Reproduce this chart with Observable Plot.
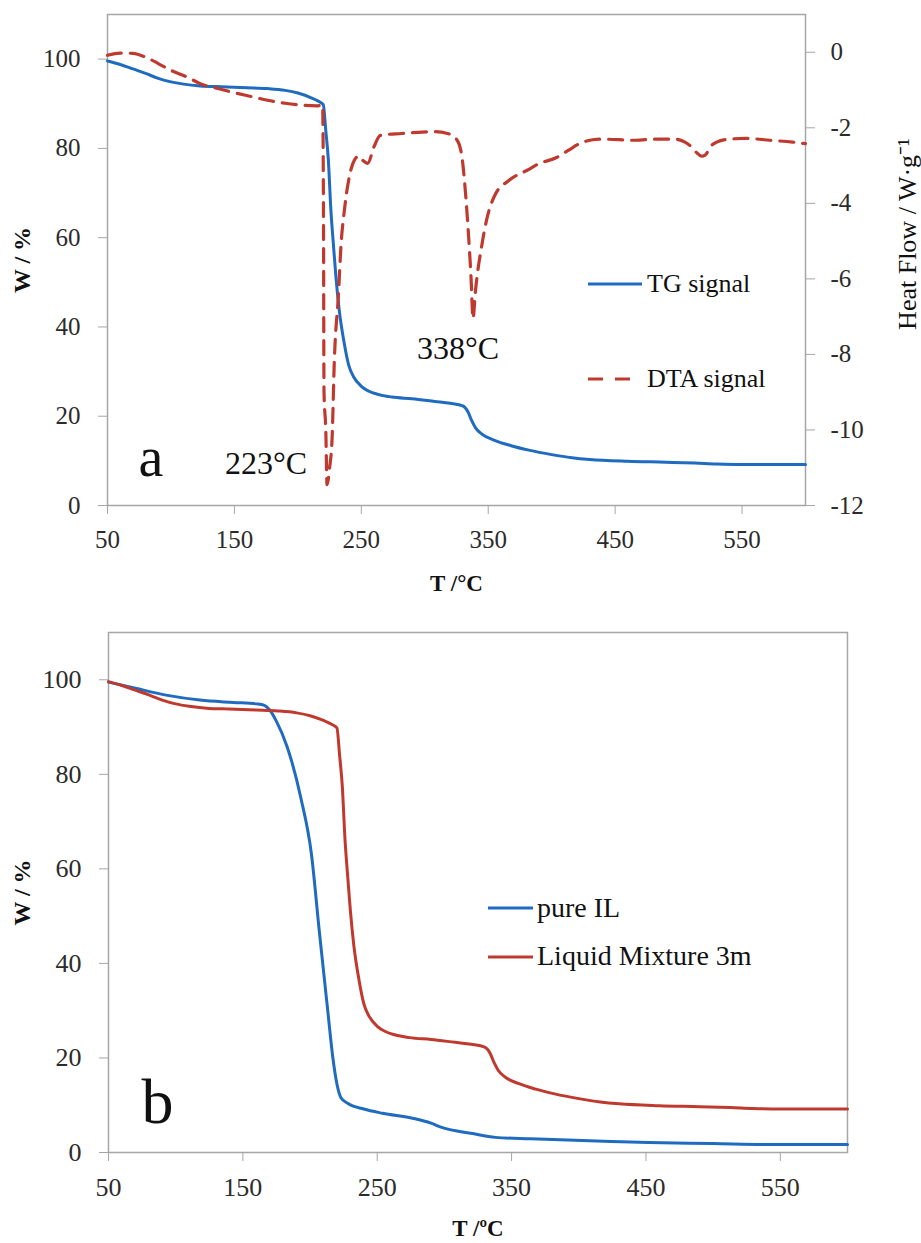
<!DOCTYPE html>
<html>
<head>
<meta charset="utf-8">
<script src="https://cdn.jsdelivr.net/npm/d3@7"></script>
<script src="https://cdn.jsdelivr.net/npm/@observablehq/plot@0.6"></script>
<style>
  body { margin: 0; background: #fff; }
  #fig { position: relative; width: 921px; height: 1243px; background: #fff; }
  #fig > svg { display: block; }
  #fig svg.overlay { position: absolute; left: 0; top: 0; pointer-events: none; }
</style>
</head>
<body>
<div id="fig"></div>
<script>
// Liquid mixture 3m: TG mass loss, temperature in °C, mass in %
const mixTemp = [50, 60, 70, 80, 90, 100, 110, 123, 140, 160, 176, 190, 200, 210, 216, 220, 222, 224, 226, 228, 230, 232.5, 236.5, 240, 244, 250, 256, 263, 274, 290, 308, 320, 330, 334, 337, 340, 345, 355, 368, 382, 400, 416, 430, 460, 490, 513, 530, 550, 575, 600];
const mixMass = [99.6, 98.8, 97.8, 96.8, 95.7, 94.9, 94.4, 94.0, 93.8, 93.6, 93.4, 93.0, 92.4, 91.4, 90.6, 89.8, 84.0, 77.5, 66.3, 58.5, 51.2, 44.0, 36.4, 31.5, 28.8, 26.7, 25.6, 24.9, 24.3, 23.9, 23.3, 22.9, 22.3, 21.0, 19.0, 17.4, 16.0, 14.6, 13.4, 12.4, 11.4, 10.7, 10.3, 9.9, 9.7, 9.5, 9.3, 9.2, 9.2, 9.2];

// Liquid mixture 3m: DTA heat flow, W/g
const dtaTemp = [50, 60, 70, 80, 90, 100, 113, 123, 137, 150, 163, 176, 190, 203, 215, 219.5, 220.2, 220.6, 222, 223, 225, 227, 228.7, 232, 234, 236.6, 240.5, 244.5, 248, 251, 255, 260, 265, 282, 295, 307, 318, 325, 329, 331, 334, 336.5, 338, 340, 345, 349, 355, 366, 382, 390, 403, 413, 422, 430, 440, 466, 482, 497, 505, 510, 514, 518, 521, 525, 530, 540, 553, 572, 590, 600];
const dtaHeat = [-0.08, -0.02, -0.03, -0.13, -0.3, -0.48, -0.66, -0.83, -0.96, -1.07, -1.17, -1.27, -1.35, -1.4, -1.42, -1.4, -4.5, -9.0, -10.0, -11.45, -11.0, -10.2, -8.2, -6.4, -5.1, -4.2, -3.3, -2.86, -2.75, -2.86, -2.94, -2.5, -2.2, -2.15, -2.12, -2.1, -2.15, -2.3, -2.7, -3.3, -4.6, -6.0, -7.05, -6.3, -5.1, -4.4, -3.8, -3.4, -3.1, -2.95, -2.8, -2.6, -2.42, -2.33, -2.3, -2.33, -2.3, -2.3, -2.38, -2.5, -2.65, -2.75, -2.72, -2.5, -2.38, -2.3, -2.28, -2.33, -2.38, -2.42];

// Pure IL: TG mass loss
const ilTemp = [50, 70, 94, 118, 143, 160, 166, 170, 175, 183, 193, 201, 207, 213, 217, 220, 223, 228, 240, 254, 277, 290, 298, 321, 338, 364, 408, 452, 500, 541, 600];
const ilMass = [99.5, 98.2, 96.7, 95.7, 95.2, 94.9, 94.6, 93.6, 91.2, 85.8, 75.2, 63.2, 46.5, 30.5, 20.0, 14.5, 11.6, 10.4, 9.2, 8.3, 7.2, 6.2, 5.3, 4.0, 3.2, 2.9, 2.5, 2.1, 1.9, 1.7, 1.7];

// DTA peak temperatures
const peakTemps = [223, 338];
const peakLabels = ["223°C", "338°C"];

// axis ticks
const tempTicks = [50, 150, 250, 350, 450, 550];
const massTicks = [0, 20, 40, 60, 80, 100];
const heatTicks = [0, -2, -4, -6, -8, -10, -12];

const tgRows = mixTemp.map((t, i) => ({T: t, W: mixMass[i]}));
const dtaRows = dtaTemp.map((t, i) => ({T: t, H: dtaHeat[i]}));
const ilRows = ilTemp.map((t, i) => ({T: t, W: ilMass[i]}));

// the heat-flow axis (−12…1) shares the mass scale (0…110)
const massDomain = [0, 110];
const heatDomain = [-12, 1];
const heatToMass = h => (h - heatDomain[0]) / (heatDomain[1] - heatDomain[0]) * (massDomain[1] - massDomain[0]) + massDomain[0];
const massToHeat = m => (m - massDomain[0]) / (massDomain[1] - massDomain[0]) * (heatDomain[1] - heatDomain[0]) + heatDomain[0];

const serif = '"Liberation Serif", "Times New Roman", serif';
const blue = "#1f6bbf";
const red = "#c0392f";
const axisGray = "#a6a6a6";
const ink = "#2b2b2b";

const fig = document.getElementById("fig");

// panel a: TG and DTA of the liquid mixture
const panelA = Plot.plot({
  width: 921,
  height: 610,
  marginLeft: 107,
  marginRight: 116,
  marginTop: 14,
  marginBottom: 105,
  style: {fontFamily: serif, fontSize: "25px", color: ink, background: "#fff", overflow: "visible"},
  x: {domain: [50, 600]},
  y: {domain: massDomain},
  marks: [
    Plot.frame({stroke: axisGray, strokeWidth: 1.5}),
    Plot.axisX({ticks: tempTicks, tickSize: 9, tickPadding: 16, stroke: axisGray, fill: ink, fontFamily: serif, label: null}),
    Plot.axisY({ticks: massTicks, tickSize: 9, tickPadding: 18, stroke: axisGray, fill: ink, fontFamily: serif, label: null}),
    Plot.axisY({
      anchor: "right",
      ticks: heatTicks.map(heatToMass),
      tickFormat: d => String(Math.round(massToHeat(d))),
      tickSize: 9, tickPadding: 16, stroke: axisGray, fill: ink, fontFamily: serif, label: null
    }),
    Plot.line(tgRows, {x: "T", y: "W", stroke: blue, strokeWidth: 3, curve: "monotone-x"}),
    Plot.line(dtaRows, {x: "T", y: d => heatToMass(d.H), stroke: red, strokeWidth: 3.2, strokeDasharray: "14,9", curve: "monotone-x"}),
    Plot.text([peakLabels[0]], {x: () => peakTemps[0], frameAnchor: "bottom", dx: -20, dy: -32, textAnchor: "end", lineAnchor: "bottom", fontSize: 32, fill: "#111"}),
    Plot.text([peakLabels[1]], {x: () => peakTemps[1], frameAnchor: "bottom", dx: -15, dy: -147, textAnchor: "middle", lineAnchor: "bottom", fontSize: 32, fill: "#111"}),
    Plot.text(["a"], {frameAnchor: "bottom-left", dx: 31, dy: -30, textAnchor: "start", lineAnchor: "bottom", fontSize: 56, fill: "#111"}),
    Plot.text(["W / %"], {frameAnchor: "left", dx: -85, rotate: -90, textAnchor: "middle", lineAnchor: "middle", fontSize: 24, fontWeight: "bold", fill: "#111"}),
    Plot.text(["Heat Flow / W·g⁻¹"], {frameAnchor: "right", dx: 102, dy: -26, rotate: -90, textAnchor: "middle", lineAnchor: "middle", fontSize: 26, fill: "#111"}),
    Plot.text(["T /°C"], {frameAnchor: "bottom", dy: 85, lineAnchor: "bottom", fontSize: 23, fontWeight: "bold", fill: "#111"})
  ]
});
fig.appendChild(panelA);

// panel b: TG of the pure IL against the liquid mixture
const panelB = Plot.plot({
  width: 921,
  height: 633,
  marginLeft: 108,
  marginRight: 74,
  marginTop: 22,
  marginBottom: 91,
  style: {fontFamily: serif, fontSize: "26px", color: ink, background: "#fff", overflow: "visible"},
  x: {domain: [50, 600]},
  y: {domain: massDomain},
  marks: [
    Plot.frame({stroke: axisGray, strokeWidth: 1.5}),
    Plot.axisX({ticks: tempTicks, tickSize: 9, tickPadding: 16, stroke: axisGray, fill: ink, fontFamily: serif, label: null}),
    Plot.axisY({ticks: massTicks, tickSize: 9, tickPadding: 18, stroke: axisGray, fill: ink, fontFamily: serif, label: null}),
    Plot.line(ilRows, {x: "T", y: "W", stroke: blue, strokeWidth: 3, curve: "monotone-x"}),
    Plot.line(tgRows, {x: "T", y: "W", stroke: red, strokeWidth: 3, curve: "monotone-x"}),
    Plot.text(["b"], {frameAnchor: "bottom-left", dx: 33, dy: -30, textAnchor: "start", lineAnchor: "bottom", fontSize: 64, fill: "#111"}),
    Plot.text(["W / %"], {frameAnchor: "left", dx: -86, rotate: -90, textAnchor: "middle", lineAnchor: "middle", fontSize: 24, fontWeight: "bold", fill: "#111"}),
    Plot.text(["T /ºC"], {frameAnchor: "bottom", dy: 83, lineAnchor: "bottom", fontSize: 23, fontWeight: "bold", fill: "#111"})
  ]
});
fig.appendChild(panelB);

// legends drawn over both panels
const overlay = d3.select(fig).append("svg")
  .attr("class", "overlay")
  .attr("width", 921)
  .attr("height", 1243)
  .style("font-family", serif);

const legendItems = [
  {x1: 588, x2: 642, y: 284, base: 292, tx: 647, size: 26, color: blue, dash: null, label: "TG signal"},
  {x1: 588, x2: 632, y: 379, base: 387, tx: 647, size: 26, color: red, dash: "15,12", label: "DTA signal"},
  {x1: 488, x2: 533, y: 908, base: 917, tx: 537, size: 28, color: blue, dash: null, label: "pure IL"},
  {x1: 488, x2: 533, y: 957, base: 965, tx: 537, size: 28, color: red, dash: null, label: "Liquid Mixture 3m"}
];
const item = overlay.selectAll("g").data(legendItems).join("g");
item.append("line")
  .attr("x1", d => d.x1).attr("x2", d => d.x2)
  .attr("y1", d => d.y).attr("y2", d => d.y)
  .attr("stroke", d => d.color)
  .attr("stroke-width", 3.2)
  .attr("stroke-dasharray", d => d.dash);
item.append("text")
  .attr("x", d => d.tx).attr("y", d => d.base)
  .attr("font-size", d => d.size)
  .attr("fill", "#111")
  .text(d => d.label);
</script>
</body>
</html>
